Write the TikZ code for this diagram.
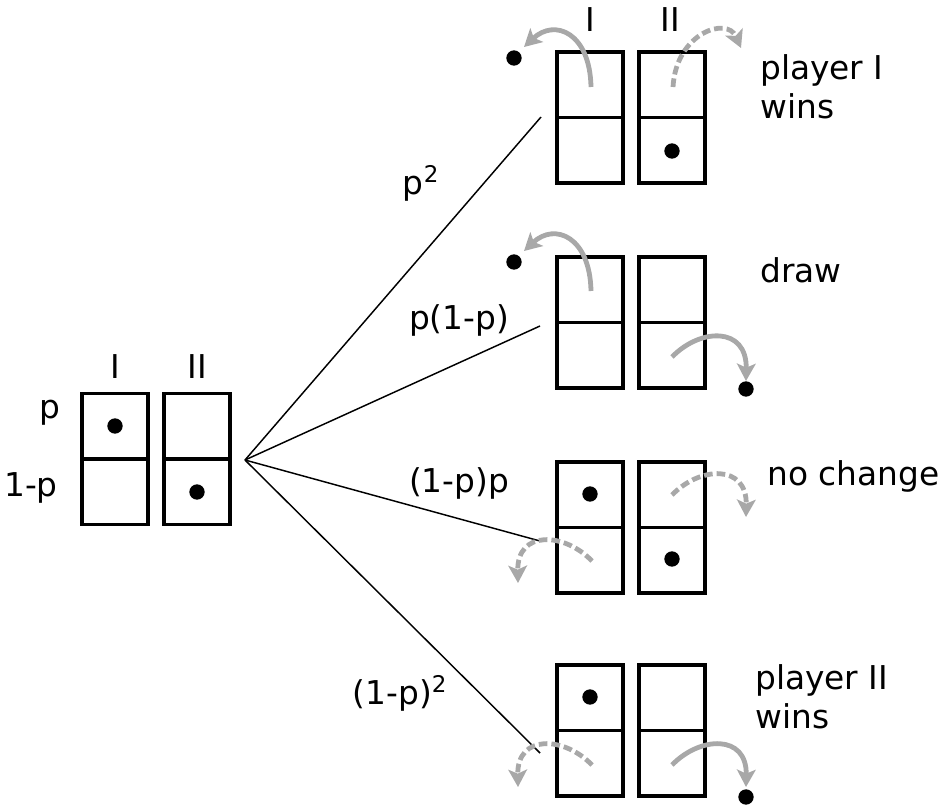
\documentclass[tikz,border=0pt]{standalone}
\usepackage{fontspec}
\setmainfont{DejaVu Sans}
\usetikzlibrary{arrows.meta}
\definecolor{arrgray}{HTML}{A8A8A8}
\begin{document}
\begin{tikzpicture}[x=0.75pt,y=-0.75pt,
  cell/.style={draw,line width=2.4pt,minimum width=49.5pt,minimum height=49pt,inner sep=0pt,outer sep=0pt},
  lbl/.style={font=\fontsize{24.6}{26}\selectfont,inner sep=0pt},
  rlbl/.style={lbl,anchor=west,align=left},
  dot/.style={circle,fill=black,minimum size=11.5pt,inner sep=0pt},
  fan/.style={line width=1.1pt},
  mv/.style={arrgray,line width=3.6pt,-{Stealth[length=13pt,width=14pt,inset=3pt]}},
  mvd/.style={mv,dash pattern=on 6.5pt off 3pt}]
\useasboundingbox (0,0) rectangle (945,807);
% left pair
\node[cell] (LIa) at (115,426.5) {};
\node[cell] (LIb) at (115,491.5) {};
\node[cell] (LIIa) at (197,426.5) {};
\node[cell] (LIIb) at (197,491.5) {};
\node[dot] (ld1) at (115,426) {};
\node[dot] (ld2) at (197,492) {};
\node[lbl] (lI) at (115,367) {I};
\node[lbl] (lII) at (197,367) {II};
\node[lbl] (lp) at (50,413) {p};
\node[lbl] (l1p) at (31,488) {1-p};
% right groups
\foreach \g/\t in {1/52,2/257,3/462,4/665}{
  \node[cell] (R\g Ia) at (590,\t+32.75) {};
  \node[cell] (R\g Ib) at (590,\t+98.25) {};
  \node[cell] (R\g IIa) at (672,\t+32.75) {};
  \node[cell] (R\g IIb) at (672,\t+98.25) {};
}
\node[lbl] (rI) at (590,20) {I};
\node[lbl] (rII) at (670,20) {II};
% fan
\coordinate (F) at (245,460);
\coordinate (E1) at (541,117);
\coordinate (E2) at (540,326);
\coordinate (E3) at (540,541);
\coordinate (E4) at (540,753);
\foreach \e in {1,2,3,4}{\draw[fan] (F) -- (E\e);}
\node[lbl] (q1) at (421,183) {p\textsuperscript{2}};
\node[lbl] (q2) at (459,320) {p(1-p)};
\node[lbl] (q3) at (459,483) {(1-p)p};
\node[lbl] (q4) at (400,693) {(1-p)\textsuperscript{2}};
% outcome labels
\node[rlbl] (o1) at (760,87) {player I\\[3pt]wins};
\node[rlbl] (o2) at (760,270) {draw};
\node[rlbl] (o3) at (767,476) {no change};
\node[rlbl] (o4) at (755,697) {player II\\[3pt]wins};
% dots
\node[dot] (d1a) at (514,58) {};
\node[dot] (d1b) at (672,151) {};
\node[dot] (d2a) at (514,262) {};
\node[dot] (d2b) at (746,389) {};
\node[dot] (d3a) at (590,494) {};
\node[dot] (d3b) at (672,559) {};
\node[dot] (d4a) at (590,697) {};
\node[dot] (d4b) at (746,797) {};
% moves
\draw[mv] (591,87) .. controls (590,33) and (555,18) .. (524,47);
\draw[mvd] (673,87) .. controls (676,33) and (727,16) .. (741,48);
\draw[mv] (591,291) .. controls (590,237) and (555,222) .. (524,251);
\draw[mv] (672,357) .. controls (700,328) and (747,326) .. (746,381);
\draw[mvd] (672,495) .. controls (700,466) and (747,464) .. (746,517);
\draw[mvd] (592,561) .. controls (564,532) and (517,530) .. (518,583);
\draw[mvd] (592,765) .. controls (564,736) and (517,734) .. (518,787);
\draw[mv] (672,765) .. controls (700,736) and (747,734) .. (746,787);
\end{tikzpicture}
\end{document}
